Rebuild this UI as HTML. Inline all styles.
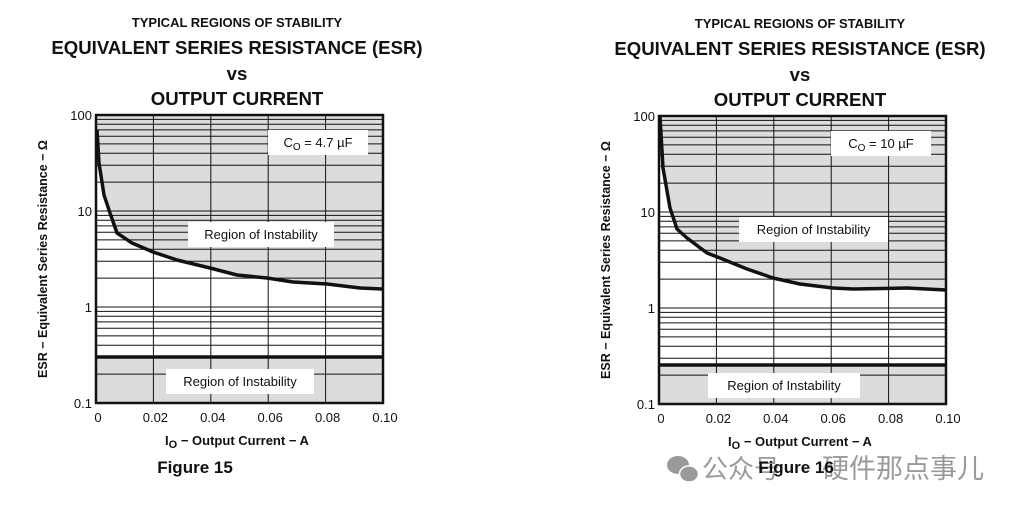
<!DOCTYPE html>
<html><head><meta charset="utf-8">
<style>
html,body{margin:0;padding:0;background:#fff;}
svg{display:block;font-family:"Liberation Sans",Arial,sans-serif;}
</style></head>
<body>
<svg id="s" width="1026" height="513" viewBox="0 0 1026 513" xmlns="http://www.w3.org/2000/svg"></svg>
<script>
const s=document.getElementById('s');
let h='';
function chart(ox,oy,curve,thickY,cap,capX,rTop,rTopX,rTopW,rBot,rBotX,rBotW,fig){
  const L=ox+96,R=ox+383,T=oy+115,B=oy+403,D=96;
  const cx=ox+237;
  h+=`<text x="${cx}" y="${oy+27}" font-size="13" font-weight="bold" text-anchor="middle" fill="#111">TYPICAL REGIONS OF STABILITY</text>`;
  h+=`<text x="${cx}" y="${oy+54}" font-size="18.6" font-weight="bold" text-anchor="middle" fill="#111">EQUIVALENT SERIES RESISTANCE (ESR)</text>`;
  h+=`<text x="${cx}" y="${oy+80}" font-size="18.6" font-weight="bold" text-anchor="middle" fill="#111">vs</text>`;
  h+=`<text x="${cx}" y="${oy+105}" font-size="18.6" font-weight="bold" text-anchor="middle" fill="#111">OUTPUT CURRENT</text>`;
  let pts=curve.map(p=>p.join(',')).join(' ');
  h+=`<polygon points="${L},${T} ${pts} ${R},${T}" fill="#dcdcdc"/>`;
  h+=`<rect x="${L}" y="${thickY}" width="${R-L}" height="${B-thickY}" fill="#dcdcdc"/>`;
  for(let d=0;d<3;d++){const base=B-d*D;
    for(let k=2;k<=9;k++){const y=base-D*Math.log10(k);h+=`<line x1="${L}" x2="${R}" y1="${y}" y2="${y}" stroke="#111" stroke-width="1"/>`;}
    h+=`<line x1="${L}" x2="${R}" y1="${base}" y2="${base}" stroke="#111" stroke-width="1"/>`;}
  for(let i=1;i<5;i++){const x=L+(R-L)*i/5;h+=`<line x1="${x}" x2="${x}" y1="${T}" y2="${B}" stroke="#111" stroke-width="1"/>`;}
  h+=`<rect x="${capX}" y="${T+15}" width="100" height="25" fill="#fff"/>`;
  h+=`<text x="${capX+50}" y="${T+32}" font-size="13" text-anchor="middle" fill="#111">C<tspan font-size="10" dy="3">O</tspan><tspan dy="-3"> = ${cap} µF</tspan></text>`;
  h+=`<rect x="${rTopX}" y="${rTop}" width="${rTopW}" height="25" fill="#fff"/>`;
  h+=`<text x="${rTopX+rTopW/2}" y="${rTop+17}" font-size="13" text-anchor="middle" fill="#111">Region of Instability</text>`;
  h+=`<rect x="${rBotX}" y="${rBot}" width="${rBotW}" height="25" fill="#fff"/>`;
  h+=`<text x="${rBotX+rBotW/2}" y="${rBot+17}" font-size="13" text-anchor="middle" fill="#111">Region of Instability</text>`;
  h+=`<polyline points="${pts}" fill="none" stroke="#111" stroke-width="3.5" stroke-linejoin="round"/>`;
  h+=`<line x1="${L}" x2="${R}" y1="${thickY}" y2="${thickY}" stroke="#111" stroke-width="3.5"/>`;
  h+=`<rect x="${L}" y="${T}" width="${R-L}" height="${B-T}" fill="none" stroke="#111" stroke-width="2.5"/>`;
  const yl=[[T,'100'],[T+D,'10'],[T+2*D,'1'],[B,'0.1']];
  yl.forEach(([y,t])=>h+=`<text x="${L-4}" y="${y+5}" font-size="13" text-anchor="end" fill="#111">${t}</text>`);
  ['0','0.02','0.04','0.06','0.08','0.10'].forEach((t,i)=>{const x=L+(R-L)*i/5;h+=`<text x="${x+2}" y="${B+19}" font-size="13" text-anchor="middle" fill="#111">${t}</text>`;});
  h+=`<text x="${cx}" y="${B+42}" font-size="13" font-weight="bold" text-anchor="middle" fill="#111">I<tspan font-size="11" dy="3">O</tspan><tspan dy="-3"> − Output Current − A</tspan></text>`;
  h+=`<text transform="translate(${L-49},${(T+B)/2}) rotate(-90)" font-size="12.5" font-weight="bold" text-anchor="middle" fill="#111">ESR − Equivalent Series Resistance − Ω</text>`;
  if(fig) h+=`<text x="${ox+195}" y="${oy+473}" font-size="17" font-weight="bold" text-anchor="middle" fill="#111">${fig}</text>`;
}
chart(0,0,[[97,130],[99,163],[104,195],[110,213],[117,233],[132,243],[153,252],[177,260],[210,268],[237,275],[267,278],[293,282],[327,284],[360,288],[383,289]],
 357,'4.7',268,222,188,146,369,166,148,'Figure 15');
chart(563,1,[[97,116],[100,167],[107,207],[114,228],[124,237],[144,252],[157,257],[184,268],[210,277],[237,283],[270,287],[290,288],[344,287],[383,289]].map(p=>[p[0]+563,p[1]+1]),
 365,'10',831,217,739,149,373,708,152,'');
h+=`<g fill="#9a9a9a"><ellipse cx="678" cy="465" rx="11" ry="9"/><ellipse cx="689" cy="474" rx="9.5" ry="8" stroke="#fff" stroke-width="1.5"/></g>`;
const wf="font-family=\"'Liberation Sans','Noto Sans CJK SC',sans-serif\"";
h+=`<text x="702" y="478" font-size="26" fill="#9a9a9a" ${wf}>公众号</text>`;
h+=`<text x="800" y="478" font-size="26" fill="#9a9a9a" ${wf}>·</text>`;
h+=`<text x="822" y="478" font-size="27" fill="#9a9a9a" ${wf}>硬件那点事儿</text>`;
h+=`<text x="796" y="473" font-size="17" font-weight="bold" text-anchor="middle" fill="#111">Figure 16</text>`;
s.innerHTML=h;
</script>
</body></html>
